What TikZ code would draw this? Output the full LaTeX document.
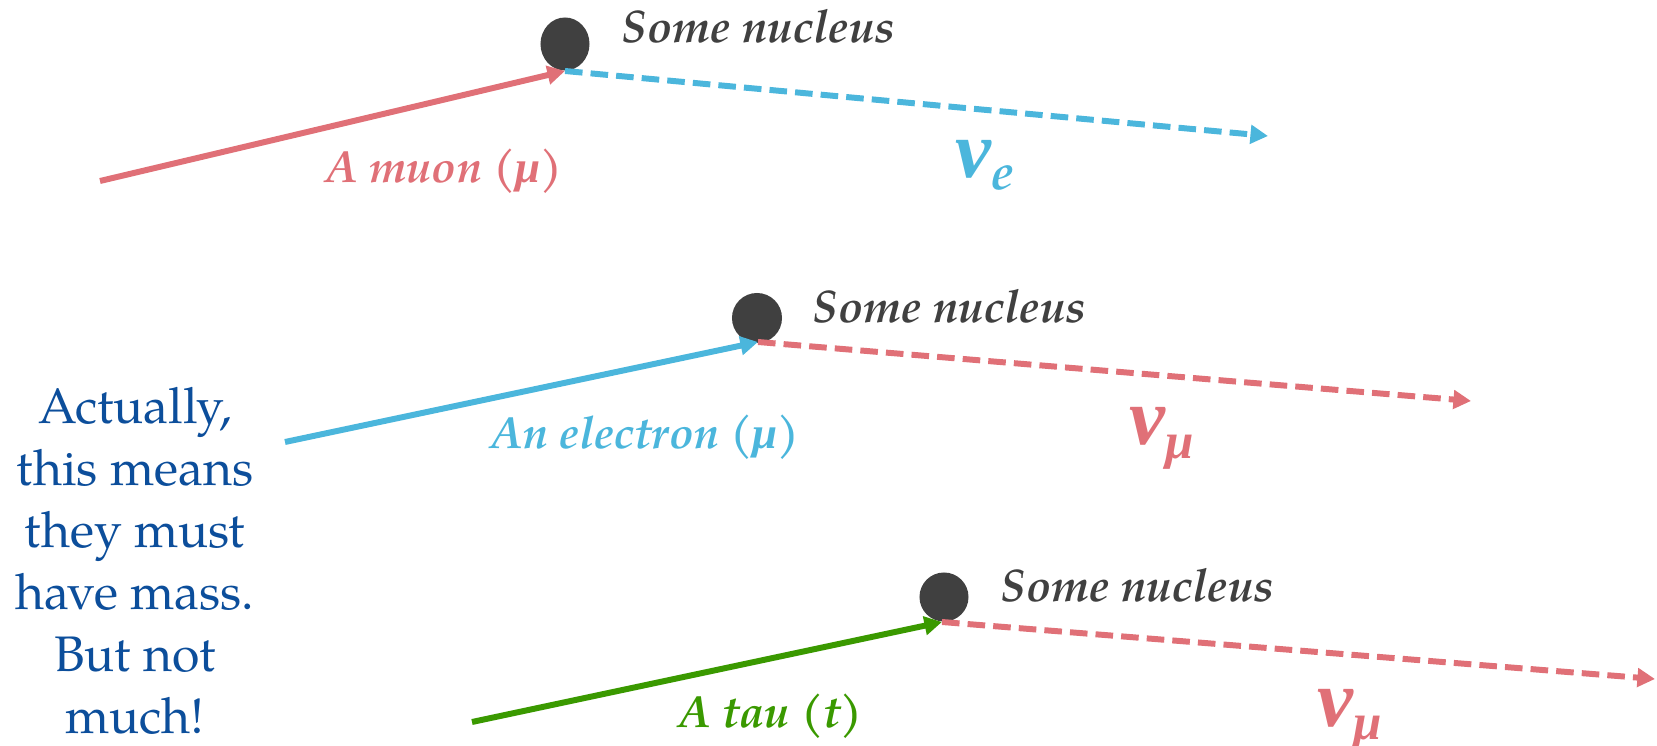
\documentclass[tikz,border=0pt]{standalone}
\usepackage{fontspec}
\setmainfont{TeX Gyre Pagella}
\newfontfamily\grk{Liberation Serif}
\usetikzlibrary{arrows.meta,shapes.geometric}
\definecolor{pred}{RGB}{224,112,119}
\definecolor{pblue}{RGB}{75,182,220}
\definecolor{pgreen}{RGB}{58,153,0}
\definecolor{pdark}{RGB}{64,64,64}
\definecolor{ptext}{RGB}{12,78,155}
\begin{document}
\begin{tikzpicture}[x=0.01cm,y=-0.01cm,
  nucleus/.style={ellipse,fill=pdark,inner sep=0pt,minimum width=0.49cm,minimum height=0.49cm},
  nuctext/.style={anchor=base west,inner sep=0pt,text=pdark,font=\fontsize{13}{16}\selectfont\bfseries\itshape},
  inarrow/.style={line width=1.7pt,-{Triangle[length=5pt,width=5.2pt]}},
  outarrow/.style={line width=1.7pt,dash pattern=on 5pt off 2.3pt,-{Triangle[length=5pt,width=5.2pt]}},
  partlabel/.style={anchor=base west,inner sep=0pt,font=\fontsize{12.8}{16}\selectfont\bfseries\itshape},
  nulabel/.style={anchor=base west,inner sep=0pt,font=\fontsize{23}{26}\selectfont\bfseries\itshape\grk}]
\useasboundingbox (0,0) rectangle (1657,746);

% row 1
\node[nucleus,minimum height=0.53cm] (n1) at (565,44) {};
\node[nuctext] (n1t) at (621,43) {Some nucleus};
\coordinate (s1) at (100,181);
\coordinate (t1) at (565,71);
\coordinate (e1) at (1268,136);
\draw[inarrow,pred] (s1) -- (t1);
\draw[outarrow,pblue] (t1) -- (e1);
\node[partlabel,text=pred] (l1) at (325,183) {A muon ({\grk μ})};
\node[nulabel,text=pblue] (nu1) at (955,178) {ν\raisebox{-0.11cm}{\fontsize{14.5}{16}\selectfont\rmfamily\bfseries\itshape e}};

% row 2
\node[nucleus,minimum width=0.50cm,minimum height=0.50cm] (n2) at (757,318) {};
\node[nuctext] (n2t) at (812,323) {Some nucleus};
\coordinate (s2) at (285,442);
\coordinate (t2) at (758,342);
\coordinate (e2) at (1471,401);
\draw[inarrow,pblue] (s2) -- (t2);
\draw[outarrow,pred] (t2) -- (e2);
\node[partlabel,text=pblue] (l2) at (490,449) {An electron ({\grk μ})};
\node[nulabel,text=pred] (nu2) at (1129,445) {ν\raisebox{-0.13cm}{\fontsize{14.5}{16}\selectfont μ}};

% row 3
\node[nucleus] (n3) at (944,597) {};
\node[nuctext] (n3t) at (1000,601) {Some nucleus};
\coordinate (s3) at (472,722);
\coordinate (t3) at (942,622);
\coordinate (e3) at (1655,679);
\draw[inarrow,pgreen] (s3) -- (t3);
\draw[outarrow,pred] (t3) -- (e3);
\node[partlabel,text=pgreen] (l3) at (678,727) {A tau (t)};
\node[nulabel,text=pred] (nu3) at (1317,726) {ν\raisebox{-0.13cm}{\fontsize{14.5}{16}\selectfont μ}};

% note
\node[anchor=base,align=center,inner sep=0pt,text=ptext,font=\fontsize{14.2}{17.6}\selectfont] (note) at (135,733)
  {Actually,\\this means\\they must\\have mass.\\But not\\much!};
\end{tikzpicture}
\end{document}
